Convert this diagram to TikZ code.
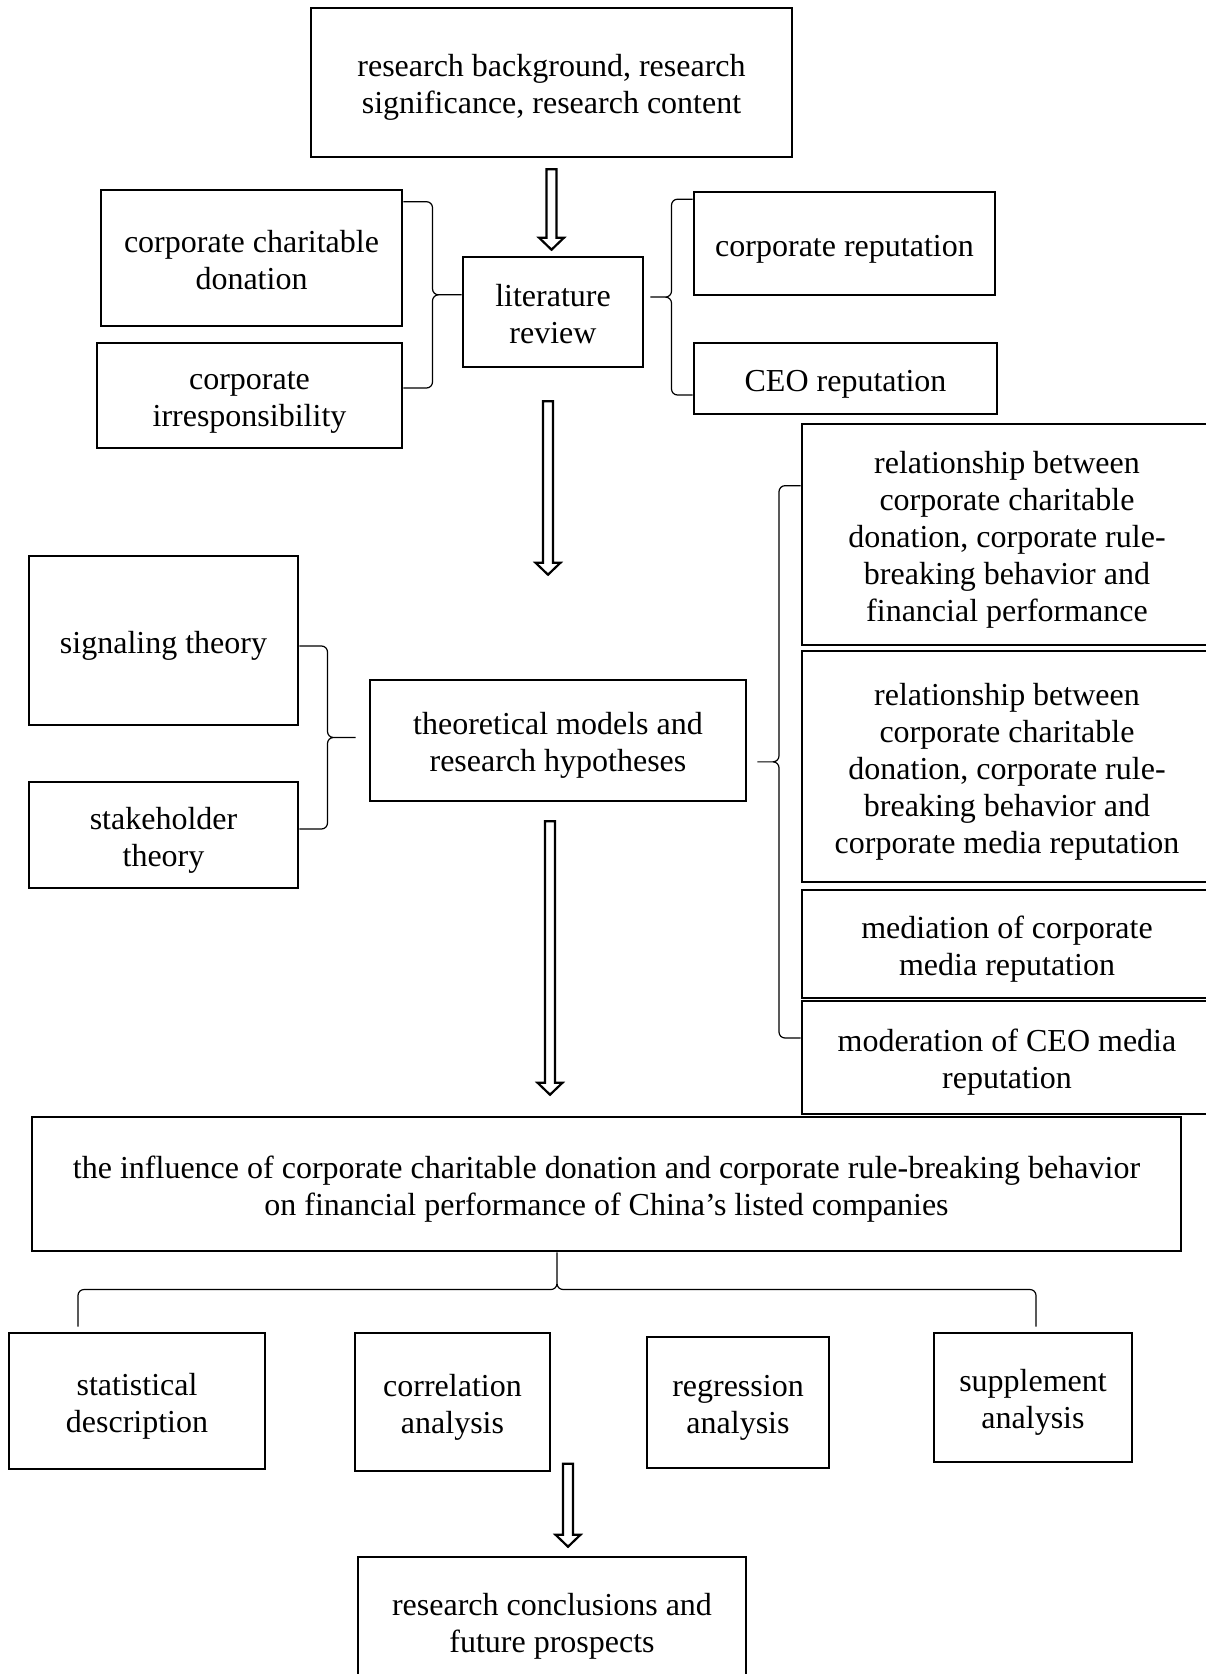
\documentclass[tikz,border=0pt]{standalone}
\usepackage{fontspec}
\setmainfont{Liberation Serif}
\usetikzlibrary{calc}

\newcommand{\boxlines}[1]{%
	\setbox0=\hbox{\begin{tabular}{@{}c@{}}#1\end{tabular}}%
	\dimen0=\ht0 \dimen2=\dp0 \setbox0=\hbox{\lower2.6pt\box0}\ht0=\dimen0 \dp0=\dimen2 \box0}
\newcommand{\hollowarrow}[2]{%
	\draw[arrowbody] ($(#1)+(-5,0)$) -- ($(#1)+(5,0)$) -- ($(#1|-#2)+(5,-12)$) -- ($(#1|-#2)+(12.5,-12)$)
		-- (#1|-#2) -- ($(#1|-#2)+(-12.5,-12)$) -- ($(#1|-#2)+(-5,-12)$) -- cycle;}
\newcommand{\bracelink}[3]{%
	\draw[bracket] let \p1=(#1), \p2=(#2), \p3=(#3) in
		(\p1) -- ({(\x1+\x3)/2},\y1) -- ({(\x1+\x3)/2},{(\y1+\y2)/2}) -- (\x3,{(\y1+\y2)/2})
		(\p2) -- ({(\x1+\x3)/2},\y2) -- ({(\x1+\x3)/2},{(\y1+\y2)/2}) -- (\x3,{(\y1+\y2)/2});}

\begin{document}
\begin{tikzpicture}[x=0.5pt,y=-0.5pt,
	box/.style={draw, line width=1.3pt, inner sep=0pt, font=\fontsize{16}{18.5}\selectfont},
	bracket/.style={line width=0.6pt, rounded corners=3pt},
	arrowbody/.style={line width=1.1pt, line join=miter}]
	\fill[white] (0,0) rectangle (1205,1674);
	\useasboundingbox (0,0) rectangle (1205,1674);

	% top part
	\node[box, minimum width=240.5pt, minimum height=74.5pt] (bg) at (551.5,82.5) {\boxlines{research background, research\\significance, research content}};
	\node[box, minimum width=90pt, minimum height=55pt] (lit) at (553,312) {\boxlines{literature\\review}};
	\node[box, minimum width=150.5pt, minimum height=68pt] (don) at (251.5,258) {\boxlines{corporate charitable\\donation}};
	\node[box, minimum width=152.5pt, minimum height=52.5pt] (irr) at (249.5,395.5) {\boxlines{corporate\\irresponsibility}};
	\node[box, minimum width=150.5pt, minimum height=51.5pt] (rep) at (844.5,243.5) {\boxlines{corporate reputation}};
	\node[box, minimum width=151.5pt, minimum height=35.5pt] (ceo) at (845.5,378.5) {\boxlines{CEO reputation}};

	% theory part
	\node[box, minimum width=188pt, minimum height=60.5pt] (theo) at (558,740.5) {\boxlines{theoretical models and\\research hypotheses}};
	\node[box, minimum width=134.5pt, minimum height=84.5pt] (sig) at (163.5,640.5) {\boxlines{signaling theory}};
	\node[box, minimum width=134.5pt, minimum height=53pt] (stk) at (163.5,835) {\boxlines{stakeholder\\theory}};
	\node[box, minimum width=205pt, minimum height=110.5pt] (rel1) at (1007,534.5) {\boxlines{relationship between\\corporate charitable\\donation, corporate rule-\\breaking behavior and\\financial performance}};
	\node[box, minimum width=205pt, minimum height=115.5pt] (rel2) at (1007,766.5) {\boxlines{relationship between\\corporate charitable\\donation, corporate rule-\\breaking behavior and\\corporate media reputation}};
	\node[box, minimum width=205pt, minimum height=54pt] (med) at (1007,944) {\boxlines{mediation of corporate\\media reputation}};
	\node[box, minimum width=205pt, minimum height=56.5pt] (mod) at (1007,1057.5) {\boxlines{moderation of CEO media\\reputation}};

	% empirical part
	\node[box, minimum width=574.5pt, minimum height=67pt] (inf) at (606.5,1184) {\boxlines{the influence of corporate charitable donation and corporate rule-breaking behavior\\on financial performance of China’s listed companies}};
	\node[box, minimum width=128pt, minimum height=68pt] (stat) at (137,1401) {\boxlines{statistical\\description}};
	\node[box, minimum width=97.5pt, minimum height=69pt] (corr) at (452.5,1402) {\boxlines{correlation\\analysis}};
	\node[box, minimum width=91pt, minimum height=65.5pt] (regr) at (738,1402.5) {\boxlines{regression\\analysis}};
	\node[box, minimum width=99pt, minimum height=64.5pt] (supp) at (1033,1397.5) {\boxlines{supplement\\analysis}};
	\node[box, minimum width=194pt, minimum height=64pt] (conc) at (552,1621) {\boxlines{research conclusions and\\future prospects}};

	% braces
	\bracelink{[yshift=-6.5pt]don.north east}{[yshift=3.75pt]irr.east}{lit.west}
	\bracelink{[yshift=-4.25pt]rep.north west}{[yshift=-8.25pt]ceo.west}{[xshift=3pt]lit.east}
	\bracelink{[yshift=-2.75pt]sig.east}{[yshift=3pt]stk.east}{[xshift=-6.5pt]theo.west}
	\bracelink{[yshift=-31.5pt]rel1.north west}{[yshift=9.75pt]mod.west}{[xshift=5pt]theo.east}
	\draw[bracket] let \p1=([xshift=-29.5pt,yshift=2.5pt]stat.north), \p2=([xshift=1.5pt,yshift=2.5pt]supp.north), \p3=(inf.south) in
		(\p1) -- (\x1,{(\y1+\y3)/2}) -- ({(\x1+\x2)/2},{(\y1+\y3)/2}) -- ({(\x1+\x2)/2},\y3)
		(\p2) -- (\x2,{(\y1+\y3)/2}) -- ({(\x1+\x2)/2},{(\y1+\y3)/2}) -- ({(\x1+\x2)/2},\y3);

	% arrows
	\coordinate (a1top) at ([yshift=-5.5pt]bg.south);
	\coordinate (a1tip) at ([yshift=3pt]lit.north);
	\coordinate (a2top) at ([xshift=-2.5pt,yshift=-16.5pt]lit.south);
	\coordinate (a2tip) at ([yshift=52pt]theo.north);
	\coordinate (a3top) at ([xshift=-4pt,yshift=-9.5pt]theo.south);
	\coordinate (a3tip) at ([yshift=10.5pt]inf.north);
	\coordinate (a4top) at ([xshift=8pt,yshift=46pt]conc.north);
	\coordinate (a4tip) at ([yshift=4.5pt]conc.north);
	\hollowarrow{a1top}{a1tip}
	\hollowarrow{a2top}{a2tip}
	\hollowarrow{a3top}{a3tip}
	\hollowarrow{a4top}{a4tip}
\end{tikzpicture}
\end{document}
